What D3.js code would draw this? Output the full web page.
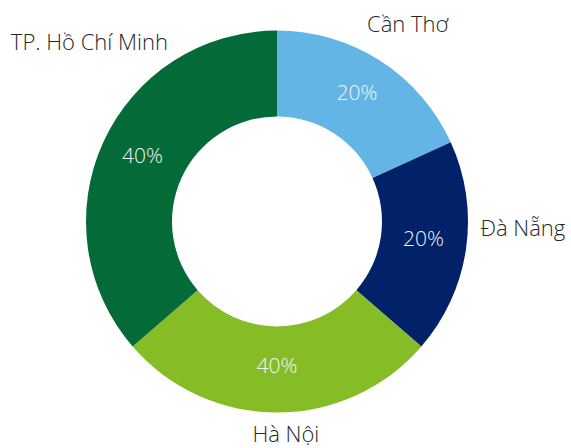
<!DOCTYPE html>
<html>
<head>
<meta charset="utf-8">
<script src="https://cdn.jsdelivr.net/npm/d3@7"></script>
<style>
  body { margin: 0; background: #fff; }
  text { font-family: "Open Sans", sans-serif; }
</style>
</head>
<body>
<div id="chart"></div>
<script>
// data (slice sizes follow the arc angles, labels as printed)
const cities = ["Cần Thơ", "Đà Nẵng", "Hà Nội", "TP. Hồ Chí Minh"]
const values = [20, 20, 30, 40]
const pctLabels = ["20%", "20%", "40%", "40%"]
const colors = ["#62B5E5", "#012169", "#86BC25", "#046A38"]

const width = 571,
      height = 448,
      cx = 277,
      cy = 221.5,
      outerR = 191,
      innerR = 105

let svg = d3.select("#chart")
    .append("svg")
    .attr("width", width)
    .attr("height", height)
    .attr("viewBox", [0, 0, width, height])

let g = svg.append("g")
    .attr("transform", `translate(${cx},${cy})`)

let pie = d3.pie()
    .sort(null)
    .value(d => d)

let arcs = pie(values)

let arc = d3.arc()
    .innerRadius(innerR)
    .outerRadius(outerR)

let labelArc = d3.arc()
    .innerRadius(148)
    .outerRadius(148)

// slices
g.selectAll("path")
    .data(arcs)
    .join("path")
    .attr("d", arc)
    .attr("fill", (d, i) => colors[i])

// percent labels inside the ring
g.selectAll(".pct")
    .data(arcs)
    .join("text")
    .attr("class", "pct")
    .attr("transform", d => {
        let [x, y] = labelArc.centroid(d)
        return `translate(${x},${y - 4})`
    })
    .attr("text-anchor", "middle")
    .attr("dy", "0.35em")
    .style("font-size", "21px")
    .style("font-weight", 300)
    .style("fill", "#f4f4f4")
    .text((d, i) => pctLabels[i])

// city labels outside, placed roughly where the original puts them
const namePos = [
    { angle: 25.4, r: 210, anchor: "start" },
    { angle: 94.2, r: 204, anchor: "start" },
    { angle: 177.7, r: 221, anchor: "middle" },
    { angle: 327.5, r: 203, anchor: "end" }
]

g.selectAll(".name")
    .data(arcs)
    .join("text")
    .attr("class", "name")
    .attr("x", (d, i) => namePos[i].r * Math.sin(namePos[i].angle * Math.PI / 180))
    .attr("y", (d, i) => -namePos[i].r * Math.cos(namePos[i].angle * Math.PI / 180))
    .attr("text-anchor", (d, i) => namePos[i].anchor)
    .style("font-size", "22px")
    .style("font-weight", 300)
    .style("fill", "#262626")
    .text((d, i) => cities[i])
</script>
</body>
</html>
